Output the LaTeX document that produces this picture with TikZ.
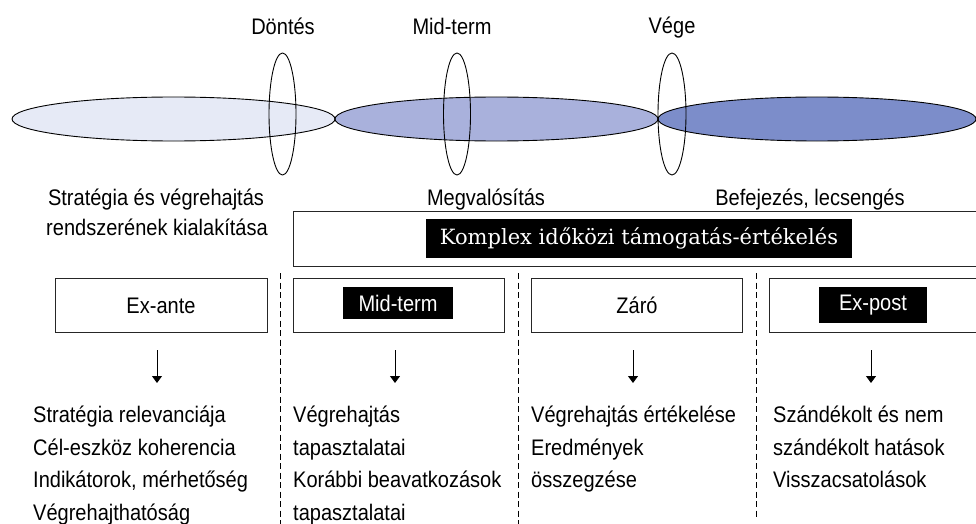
\documentclass[tikz,border=0pt]{standalone}
\usepackage{fontspec}
\setmainfont[FakeStretch=0.89]{Liberation Sans}
\newfontfamily\slabfont{DejaVu Serif}
\usetikzlibrary{arrows.meta}
\definecolor{phaseA}{HTML}{E6EAF6}
\definecolor{phaseB}{HTML}{A9B1DC}
\definecolor{phaseC}{HTML}{7C8DCA}
\tikzset{
  txt/.style={inner sep=0pt, font=\fontsize{22.5}{22.5}\selectfont, anchor=base},
  ltxt/.style={inner sep=0pt, font=\fontsize{22.5}{22.5}\selectfont, anchor=base west},
  frame/.style={draw=black!85, line width=1.1pt},
  blacklabel/.style={fill=black, text=white, inner sep=0pt, font=\fontsize{22.5}{22.5}\selectfont},
  sep/.style={draw=black, line width=0.9pt, dash pattern=on 6pt off 3.5pt},
  downarrow/.style={draw=black, line width=0.9pt, -{Triangle[width=10pt,length=7pt]}},
  phase/.style={draw=black, line width=0.9pt},
  marker/.style={draw=black, line width=0.9pt}
}
\begin{document}
\begin{tikzpicture}[x=1pt,y=-1pt]
\useasboundingbox (0,0) rectangle (976,524);
\clip (0,0) rectangle (976,524);
% phases
\draw[phase, fill=phaseA] (173.5,119) ellipse [x radius=161.5, y radius=22];
\draw[phase, fill=phaseB] (496.5,119) ellipse [x radius=161.5, y radius=22];
\draw[phase, fill=phaseC] (817,119) ellipse [x radius=159, y radius=22];
% markers
\draw[marker] (282.5,114) ellipse [x radius=13.5, y radius=61];
\draw[marker] (457,114) ellipse [x radius=13.5, y radius=61];
\draw[marker] (672,114) ellipse [x radius=14, y radius=61];
% top labels
\node[txt] (dontes) at (283,35) {Döntés};
\node[txt] (midtop) at (452,35) {Mid-term};
\node[txt] (vege) at (672,34) {Vége};
\node[txt] (strat1) at (156,205) {Stratégia és végrehajtás};
\node[txt] (strat2) at (157,235) {rendszerének kialakítása};
\node[txt] (megval) at (486,205) {Megvalósítás};
\node[txt] (befej) at (810,205) {Befejezés, lecsengés};
% big box
\node[frame, anchor=north west, minimum width=700pt, minimum height=55pt, inner sep=0pt] (kbox) at (293,211) {};
\node[fill=black, text=white, inner sep=0pt, minimum width=426pt, minimum height=39pt,
      font=\slabfont\fontsize{21}{21}\selectfont] (komplex) at (639,238.5) {Komplex időközi támogatás-értékelés};
% separators
\draw[sep] (280,273) -- (280,524);
\draw[sep] (518,273) -- (518,524);
\draw[sep] (756,273) -- (756,518);
% row boxes
\node[frame, anchor=north west, minimum width=212pt, minimum height=54pt, inner sep=0pt] (exante) at (55,278) {};
\node[frame, anchor=north west, minimum width=211pt, minimum height=54pt, inner sep=0pt] (midbox) at (293,278) {};
\node[frame, anchor=north west, minimum width=211pt, minimum height=54pt, inner sep=0pt] (zarobox) at (531,278) {};
\node[frame, anchor=north west, minimum width=240pt, minimum height=54pt, inner sep=0pt] (expostbox) at (769,278) {};
\node[txt] (exantet) at (161,313) {Ex-ante};
\node[blacklabel, minimum width=110pt, minimum height=32pt] (midt) at (398,303) {Mid-term};
\node[txt] (zarot) at (637,313) {Záró};
\node[blacklabel, minimum width=108pt, minimum height=36pt] (expostt) at (873,305) {Ex-post};
% arrows
\coordinate (a1s) at (157,350); \coordinate (a1e) at (157,383);
\coordinate (a2s) at (395,350); \coordinate (a2e) at (395,383);
\coordinate (a3s) at (633,350); \coordinate (a3e) at (633,383);
\coordinate (a4s) at (871,350); \coordinate (a4e) at (871,383);
\draw[downarrow] (a1s) -- (a1e);
\draw[downarrow] (a2s) -- (a2e);
\draw[downarrow] (a3s) -- (a3e);
\draw[downarrow] (a4s) -- (a4e);
% column texts
\node[ltxt] (c1l1) at (33,422) {Stratégia relevanciája};
\node[ltxt] (c1l2) at (33,455) {Cél-eszköz koherencia};
\node[ltxt] (c1l3) at (33,487) {Indikátorok, mérhetőség};
\node[ltxt] (c1l4) at (33,520) {Végrehajthatóság};
\node[ltxt] (c2l1) at (293,422) {Végrehajtás};
\node[ltxt] (c2l2) at (293,455) {tapasztalatai};
\node[ltxt] (c2l3) at (293,487) {Korábbi beavatkozások};
\node[ltxt] (c2l4) at (293,520) {tapasztalatai};
\node[ltxt] (c3l1) at (531,422) {Végrehajtás értékelése};
\node[ltxt] (c3l2) at (531,455) {Eredmények};
\node[ltxt] (c3l3) at (531,487) {összegzése};
\node[ltxt] (c4l1) at (773,422) {Szándékolt és nem};
\node[ltxt] (c4l2) at (773,455) {szándékolt hatások};
\node[ltxt] (c4l3) at (773,487) {Visszacsatolások};
\end{tikzpicture}
\end{document}
